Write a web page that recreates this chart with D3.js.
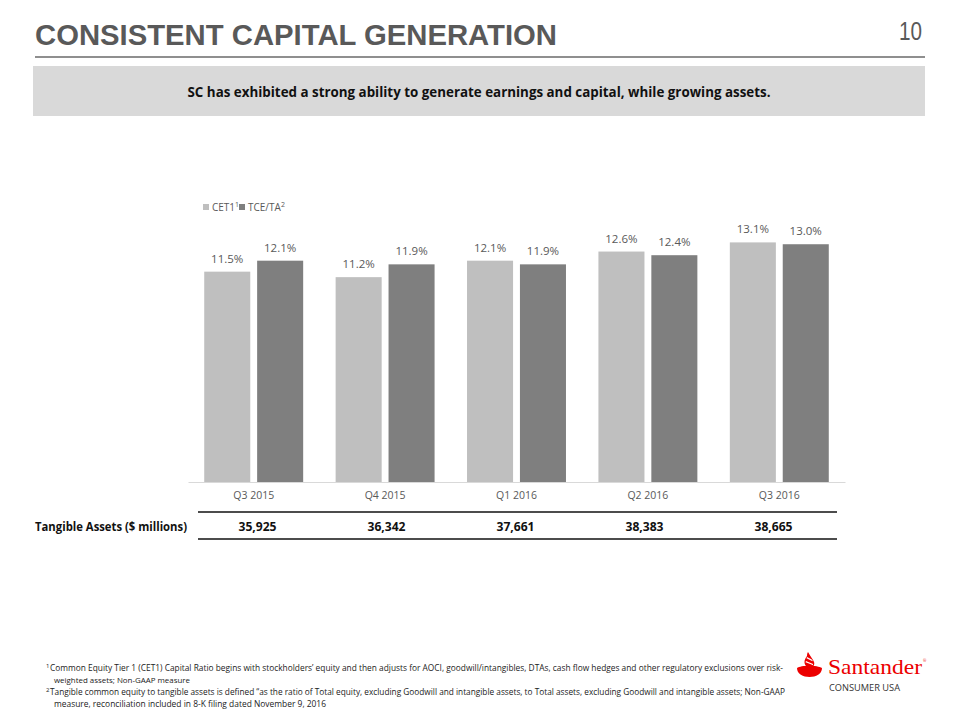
<!DOCTYPE html>
<html>
<head>
<meta charset="utf-8">
<script src="https://cdn.jsdelivr.net/npm/d3@7"></script>
<style>
  body { margin: 0; background: #fff; }
  svg { display: block; }
</style>
</head>
<body>
<svg id="chart" width="960" height="720"></svg>
<script>
// ---- data ----
const categories = ["Q3 2015", "Q4 2015", "Q1 2016", "Q2 2016", "Q3 2016"];
const seriesNames = ["CET1", "TCE/TA"];
const seriesSup = ["1", "2"];
const cet1 = [11.5, 11.2, 12.1, 12.6, 13.1];
const tceTa = [12.1, 11.9, 11.9, 12.4, 13.0];
const tangibleAssets = ["35,925", "36,342", "37,661", "38,383", "38,665"];
const colors = ["#bfbfbf", "#7f7f7f"];

const title = "CONSISTENT CAPITAL GENERATION";
const pageNum = "10";
const subtitle = "SC has exhibited a strong ability to generate earnings and capital, while growing assets.";
const rowLabel = "Tangible Assets ($ millions)";
const footnotes = [
  {sup: "1", lines: ["Common Equity Tier 1 (CET1) Capital Ratio begins with stockholders\u2019 equity and then adjusts for AOCI, goodwill/intangibles, DTAs, cash flow hedges and other regulatory exclusions over risk-", "weighted assets; Non-GAAP measure"]},
  {sup: "2", lines: ["Tangible common equity to tangible assets is defined \u201cas the ratio of Total equity, excluding Goodwill and intangible assets, to Total assets, excluding Goodwill and intangible assets; Non-GAAP", "measure, reconciliation included in 8-K filing dated November 9, 2016"]}
];

const svg = d3.select("#chart");
const gray = "#595959";
const bodyFont = "'Open Sans', 'Noto Sans', sans-serif";

// fit a text: shrink font if its natural width exceeds target, then pin its length
function fit(sel, target, size) {
  sel.attr("font-size", size);
  const w = sel.node().getComputedTextLength();
  if (w > target) sel.attr("font-size", size * target / w);
  sel.attr("textLength", target).attr("lengthAdjust", "spacingAndGlyphs");
  return sel;
}

// ---- header ----
fit(svg.append("text").attr("x", 35).attr("y", 45)
  .attr("font-family", "'Liberation Sans', Arial, sans-serif").attr("font-weight", "bold")
  .attr("fill", gray).text(title), 522, 32);
svg.append("text").attr("x", 922).attr("y", 40).attr("text-anchor", "end")
  .attr("font-family", "'Liberation Sans', Arial, sans-serif")
  .attr("font-size", 25).attr("fill", gray)
  .attr("textLength", 23).attr("lengthAdjust", "spacingAndGlyphs")
  .text(pageNum);
svg.append("line").attr("x1", 35).attr("x2", 925).attr("y1", 57).attr("y2", 57)
  .attr("stroke", "#6a6a6a").attr("stroke-width", 1.5);
svg.append("rect").attr("x", 33).attr("y", 66).attr("width", 892).attr("height", 50)
  .attr("fill", "#d9d9d9");
svg.append("text").attr("x", 479).attr("y", 97).attr("text-anchor", "middle")
  .attr("font-family", bodyFont).attr("font-weight", "bold")
  .attr("font-size", 15).attr("fill", "#111")
  .attr("textLength", 583).attr("lengthAdjust", "spacingAndGlyphs")
  .text(subtitle);

// ---- scales ----
const x0 = d3.scaleBand().domain(categories).range([188, 845])
  .paddingInner(0.247).paddingOuter(0.1235);
const x1 = d3.scaleBand().domain(seriesNames).range([0, x0.bandwidth()]).paddingInner(0.13);
const y = d3.scaleLinear().domain([0, 14]).range([482, 482 - 18.29 * 14]);

const series = [cet1, tceTa];
const g = svg.append("g");

categories.forEach((c, i) => {
  seriesNames.forEach((s, j) => {
    const v = series[j][i];
    g.append("rect")
      .attr("x", x0(c) + x1(s)).attr("y", y(v))
      .attr("width", x1.bandwidth()).attr("height", y(0) - y(v))
      .attr("fill", colors[j]);
    g.append("text")
      .attr("x", x0(c) + x1(s) + x1.bandwidth() / 2).attr("y", y(v) - 9)
      .attr("text-anchor", "middle").attr("font-family", bodyFont)
      .attr("font-size", 11.5).attr("fill", gray)
      .text(d3.format(".1f")(v) + "%");
  });
});

// x axis
const xAxis = d3.axisBottom(x0).tickSize(0).tickPadding(10);
const ax = svg.append("g").attr("transform", `translate(0,${y(0)})`).call(xAxis);
ax.select(".domain").attr("stroke", "#d9d9d9").attr("stroke-width", 1.2);
ax.selectAll("text").attr("font-family", bodyFont).attr("font-size", 10.5)
  .attr("fill", gray).attr("dy", "0.71em");

// legend
const leg = svg.append("g");
const legX = [203, 239];
seriesNames.forEach((s, j) => {
  leg.append("rect").attr("x", legX[j]).attr("y", 204).attr("width", 6).attr("height", 6)
    .attr("fill", colors[j]);
  const t = leg.append("text").attr("x", legX[j] + 9).attr("y", 211)
    .attr("font-family", bodyFont).attr("font-size", 10).attr("fill", gray);
  t.append("tspan").text(s);
  t.append("tspan").attr("dy", -4).attr("font-size", 7).text(seriesSup[j]);
});

// ---- table ----
const xt = d3.scaleBand().domain(categories).range([193, 838]);
svg.append("line").attr("x1", 198).attr("x2", 837).attr("y1", 512).attr("y2", 512)
  .attr("stroke", "#111").attr("stroke-width", 1.5);
svg.append("line").attr("x1", 198).attr("x2", 837).attr("y1", 539).attr("y2", 539)
  .attr("stroke", "#111").attr("stroke-width", 1.5);
svg.append("text").attr("x", 35).attr("y", 531)
  .attr("font-family", bodyFont).attr("font-weight", "bold").attr("font-size", 13)
  .attr("fill", "#111").attr("textLength", 152).attr("lengthAdjust", "spacingAndGlyphs")
  .text(rowLabel);
categories.forEach((c, i) => {
  svg.append("text").attr("x", xt(c) + xt.bandwidth() / 2).attr("y", 531)
    .attr("text-anchor", "middle").attr("font-family", bodyFont).attr("font-weight", "bold")
    .attr("font-size", 13).attr("fill", "#111")
    .attr("textLength", 38).attr("lengthAdjust", "spacingAndGlyphs")
    .text(tangibleAssets[i]);
});

// ---- footnotes ----
const fnLens = [[733, 136], [735, 272]];
let fy = 671;
footnotes.forEach((f, k) => {
  svg.append("text").attr("x", 46).attr("y", fy - 3)
    .attr("font-family", bodyFont).attr("font-size", 6).attr("fill", "#222").text(f.sup);
  f.lines.forEach((ln, li) => {
    fit(svg.append("text").attr("x", li === 0 ? 50 : 54).attr("y", fy)
      .attr("font-family", bodyFont).attr("fill", "#222").text(ln), fnLens[k][li], 9);
    fy += 12;
  });
});

// ---- logo ----
const logo = svg.append("g");
const red = "#ec0000";
logo.append("path").attr("fill", red)
  .attr("d", "M797,668 C801,665 817,665 822,668 C822,674 816,677 809.5,677 C803,677 797,674 797,668 Z");
logo.append("path").attr("fill", red)
  .attr("d", "M808,668 C803,664 804,660 807,656 C807,653 808,652 808,652 C810,656 813,659 814,662 C815,665 813,667 811,668 Z");
logo.append("path").attr("fill", "#fff")
  .attr("d", "M806,661 C808,662 811,663 813,664 L813,665.3 C811,664.3 808,663.3 805.5,662.3 Z");
logo.append("path").attr("fill", "#fff")
  .attr("d", "M807,657 C809,658 811,659 812.5,660 L812.5,661.2 C810.5,660.2 808.5,659.2 806.5,658.2 Z");
fit(logo.append("text").attr("x", 828).attr("y", 674)
  .attr("font-family", "'Liberation Serif', 'DejaVu Serif', serif")
  .attr("fill", red).text("Santander"), 94, 21);
logo.append("text").attr("x", 923).attr("y", 662)
  .attr("font-family", bodyFont).attr("font-size", 4).attr("fill", red).text("\u00ae");
fit(logo.append("text").attr("x", 829).attr("y", 691)
  .attr("font-family", bodyFont).attr("fill", "#333").text("CONSUMER USA"), 71, 9.5);
</script>
</body>
</html>
